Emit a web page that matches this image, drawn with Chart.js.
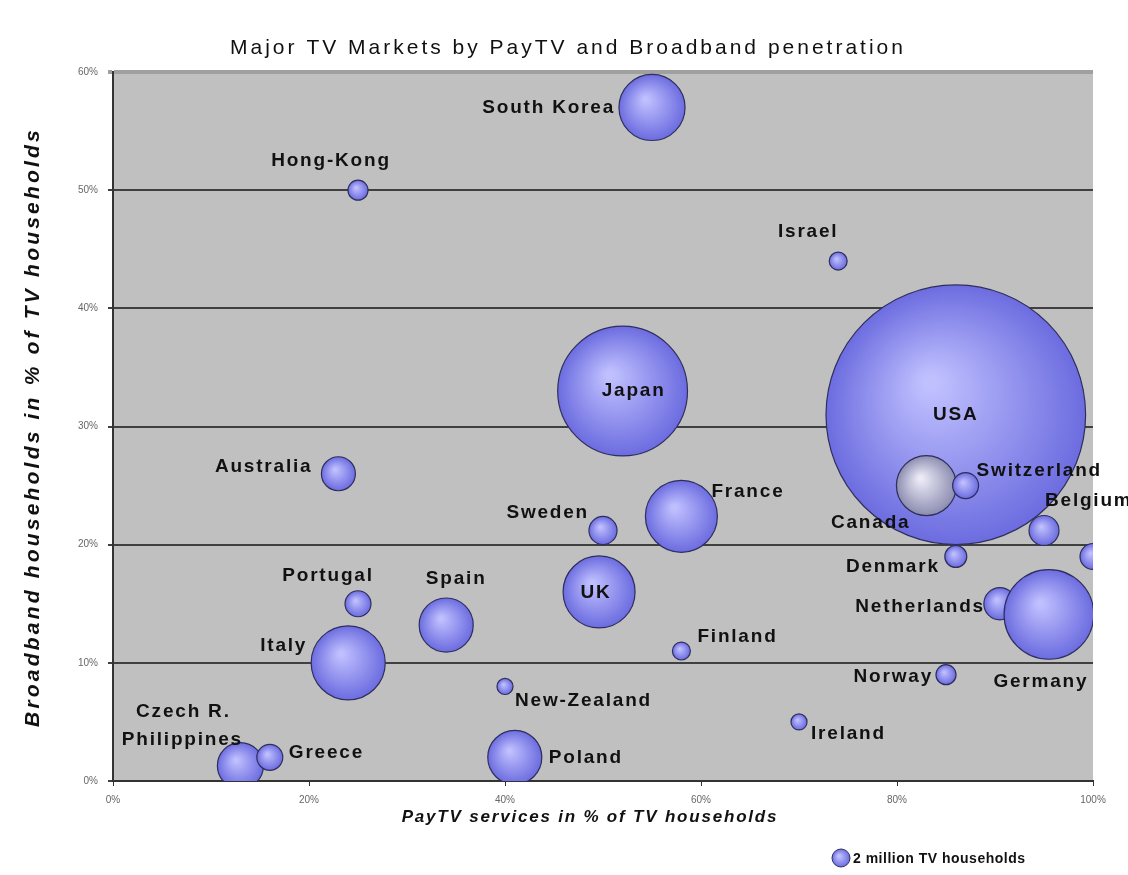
<!DOCTYPE html>
<html lang="en">
<head>
<meta charset="UTF-8">
<meta name="viewport" content="width=device-width, initial-scale=1.0">
<title>Major TV Markets</title>
<script src="https://cdn.jsdelivr.net/npm/chart.js@4.4.0/dist/chart.umd.min.js"></script>
<style>
  html, body { margin: 0; padding: 0; background: #fff; }
  #wrap { position: relative; width: 1128px; height: 875px; }
</style>
</head>
<body>
<div id="wrap"><canvas id="markets"></canvas></div>
<script>
// data (x = PayTV %, y = broadband %, size = million TV households)
const countries  = ['USA', 'South Korea', 'Hong-Kong', 'Israel', 'Japan', 'Australia', 'Canada', 'Switzerland',
                    'France', 'Sweden', 'Belgium', 'Austria', 'Denmark', 'UK', 'Portugal', 'Spain', 'Netherlands',
                    'Germany', 'Italy', 'Finland', 'Norway', 'New-Zealand', 'Ireland', 'Czech R.', 'Philippines',
                    'Greece', 'Poland']
const payTV      = [86, 55, 25, 74, 52, 23, 83, 87, 58, 50, 95, 100, 86, 49.6, 25, 34, 90.5, 95.5, 24, 58, 85, 40, 70, 13, 13, 16, 41]
const broadband  = [31, 57, 50, 44, 33, 26, 25, 25, 22.4, 21.2, 21.2, 19, 19, 16, 15, 13.2, 15, 14.1, 10, 11, 9, 8, 5, 1.3, 1.3, 2, 2]
const households = [110, 28, 8.5, 7.6, 55, 14.4, 25.4, 11, 30.5, 11.9, 12.7, 11, 9.3, 30.5, 11, 22.9, 13.6, 38, 31.4, 7.6, 8.5, 6.8, 6.8, 8, 19.5, 11, 22.9]
const xTicks = [0, 20, 40, 60, 80, 100]
const yTicks = [0, 10, 20, 30, 40, 50, 60]

const pxPerMillion = 1.18

// where each name sits relative to its bubble: [align, dx, dy]
const labelPlace = {
  'USA': ['center', 0, 0], 'South Korea': ['right', -37, 0], 'Hong-Kong': ['center', -27, -29],
  'Israel': ['center', -30, -29], 'Japan': ['center', 11, 0], 'Australia': ['right', -26, -7],
  'Canada': ['right', -16, 37], 'Switzerland': ['left', 11, -15], 'France': ['left', 30, -25],
  'Sweden': ['right', -14, -18], 'Belgium': ['left', 1, -30], 'Denmark': ['right', -16, 10],
  'UK': ['center', -3, 1], 'Portugal': ['center', -30, -28], 'Spain': ['center', 10, -46],
  'Netherlands': ['right', -15, 3], 'Germany': ['center', -8, 67], 'Italy': ['right', -41, -17],
  'Finland': ['left', 16, -14], 'Norway': ['right', -13, 2], 'New-Zealand': ['left', 10, 14],
  'Ireland': ['left', 12, 12], 'Czech R.': ['center', -57, -54], 'Philippines': ['center', -58, -26],
  'Greece': ['left', 19, -5], 'Poland': ['left', 34, 0]
}

const points = countries.map((c, i) => ({ x: payTV[i], y: broadband[i], r: households[i] * pxPerMillion, name: c }))

const FONT = '"Liberation Sans", Arial, sans-serif'

function sphere(ctx) {
  const chart = ctx.chart
  const grey = ctx.raw && ctx.raw.name === 'Canada'
  const light = grey ? '#ececf8' : '#c0c0ff'
  const dark = grey ? '#8c8cb0' : '#6c6ce0'
  if (ctx.type !== 'data' || !chart.chartArea) return dark
  const cx = chart.scales.x.getPixelForValue(ctx.raw.x)
  const cy = chart.scales.y.getPixelForValue(ctx.raw.y)
  const r = ctx.raw.r
  const g = chart.ctx.createRadialGradient(cx - r * 0.2, cy - r * 0.25, r * 0.05, cx, cy, r)
  g.addColorStop(0, light)
  g.addColorStop(1, dark)
  return g
}

function spaced(ctx, text, x, y, spacing) {
  ctx.letterSpacing = spacing + 'px'
  ctx.fillText(text, x, y)
  ctx.letterSpacing = '0px'
}

const decorations = {
  id: 'decorations',
  beforeDraw(chart) {
    const { ctx, chartArea: a } = chart
    ctx.save()
    ctx.fillStyle = '#c0c0c0'
    ctx.fillRect(a.left, a.top, a.right - a.left, a.bottom - a.top)
    ctx.restore()
  },
  afterDatasetsDraw(chart) {
    const ctx = chart.ctx
    const meta = chart.getDatasetMeta(0)
    ctx.save()
    ctx.fillStyle = '#111'
    ctx.font = 'bold 19px ' + FONT
    ctx.textBaseline = 'middle'
    meta.data.forEach((el, i) => {
      const p = labelPlace[countries[i]]
      if (!p) return
      ctx.textAlign = p[0]
      spaced(ctx, countries[i], el.x + p[1], el.y + p[2], 1.8)
    })
    ctx.restore()
  },
  afterDraw(chart) {
    const ctx = chart.ctx
    ctx.save()
    ctx.fillStyle = '#111'
    ctx.textAlign = 'center'
    ctx.textBaseline = 'middle'
    ctx.font = '21px ' + FONT
    spaced(ctx, 'Major TV Markets by PayTV and Broadband penetration', 568, 48, 3)

    ctx.font = 'italic bold 17px ' + FONT
    spaced(ctx, 'PayTV services in % of TV households', 590, 817, 1.8)

    ctx.save()
    ctx.translate(33, 427)
    ctx.rotate(-Math.PI / 2)
    ctx.font = 'italic bold 21px ' + FONT
    spaced(ctx, 'Broadband households in % of TV households', 0, 0, 3.2)
    ctx.restore()

    // legend marker: 2 million households
    const lx = 841, ly = 858, lr = 9
    const g = ctx.createRadialGradient(lx - 2, ly - 2, 1, lx, ly, lr)
    g.addColorStop(0, '#c0c0ff')
    g.addColorStop(1, '#6c6ce0')
    ctx.beginPath()
    ctx.arc(lx, ly, lr, 0, Math.PI * 2)
    ctx.fillStyle = g
    ctx.fill()
    ctx.strokeStyle = '#303060'
    ctx.lineWidth = 1
    ctx.stroke()
    ctx.fillStyle = '#111'
    ctx.textAlign = 'left'
    ctx.font = 'bold 14px ' + FONT
    spaced(ctx, '2 million TV households', 853, 859, 0.5)
    ctx.restore()
  }
}

new Chart('markets', {
  type: 'bubble',
  data: {
    datasets: [{
      label: 'TV households',
      data: points,
      backgroundColor: sphere,
      borderColor: '#2e2e5c',
      borderWidth: 1.2,
      hoverRadius: 0,
      clip: 0
    }]
  },
  options: {
    responsive: true,
    maintainAspectRatio: false,
    animation: false,
    events: [],
    layout: { autoPadding: false, padding: { top: 72, right: 35, bottom: 0, left: 0 } },
    plugins: { legend: { display: false }, tooltip: { enabled: false }, title: { display: false } },
    scales: {
      x: {
        type: 'linear', min: 0, max: 100,
        afterFit: s => { s.height = 94 },
        afterBuildTicks: s => { s.ticks = xTicks.map(v => ({ value: v })) },
        grid: { drawOnChartArea: false, drawTicks: true, tickLength: 5, color: '#333' },
        border: { color: '#333', width: 2 },
        ticks: { padding: 8, color: '#666', font: { family: FONT, size: 10 }, callback: v => v + '%' }
      },
      y: {
        type: 'linear', min: 0, max: 60,
        afterFit: s => { s.width = 113 },
        afterBuildTicks: s => { s.ticks = yTicks.map(v => ({ value: v })) },
        grid: {
          tickLength: 5,
          color: c => c.tick && c.tick.value === 60 ? '#a0a0a0' : '#404040',
          lineWidth: c => c.tick && c.tick.value === 60 ? 4 : 2
        },
        border: { color: '#333', width: 2 },
        ticks: { padding: 10, color: '#666', font: { family: FONT, size: 10 }, callback: v => v + '%' }
      }
    }
  },
  plugins: [decorations]
})
</script>
</body>
</html>
